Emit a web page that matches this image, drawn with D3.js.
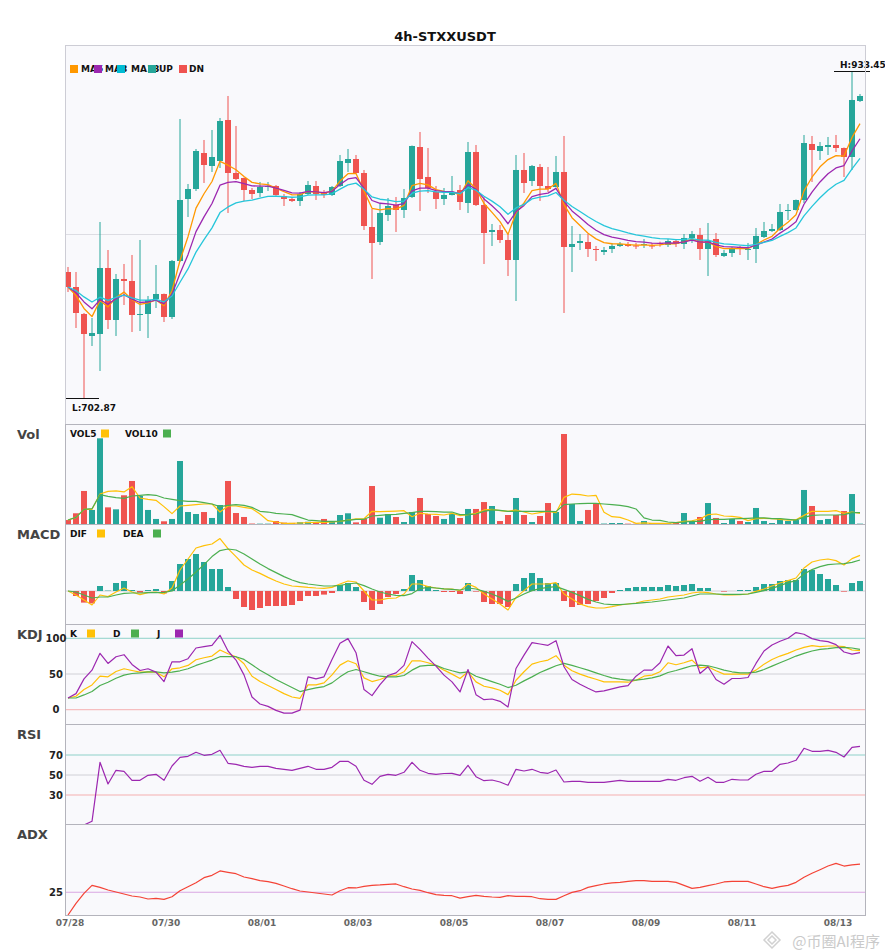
<!DOCTYPE html>
<html>
<head>
<meta charset="utf-8">
<script src="https://cdn.jsdelivr.net/npm/d3@7"></script>
<style>
  body { margin: 0; background: #ffffff; }
  svg { display: block; font-family: "DejaVu Sans", sans-serif; }
</style>
</head>
<body>
<div id="chart"></div>
<script>
// ---- data (4h candles, 07/28 .. 08/13) ----
const openP = [791.72, 781.14, 762.11, 746.59, 748.00, 794.54, 757.88, 786.79, 785.38, 761.40,
  762.11, 772.68, 776.21, 759.99, 799.48, 843.20, 850.25, 875.63, 866.47, 869.99,
  898.90, 861.53, 858.01, 849.54, 847.43, 851.66, 852.36, 845.31, 843.20, 841.79,
  846.72, 852.36, 848.13, 846.02, 852.36, 868.58, 871.40, 861.53, 823.45, 812.88,
  831.91, 838.97, 835.44, 844.61, 879.86, 858.71, 848.13, 843.20, 846.02, 849.54,
  840.38, 876.34, 838.97, 819.93, 821.34, 814.29, 800.18, 863.65, 855.89, 865.76,
  852.36, 851.66, 862.24, 809.35, 812.17, 812.88, 807.94, 805.82, 807.94, 810.06,
  811.47, 810.40, 810.76, 810.40, 812.17, 810.76, 813.58, 811.47, 815.70, 817.81,
  807.94, 814.99, 803.00, 805.12, 809.35, 807.23, 807.94, 816.40, 820.63, 821.34,
  834.74, 835.44, 842.49, 881.98, 877.04, 879.86, 881.27, 879.16, 872.81, 912.30];
const highP = [795.25, 791.72, 762.81, 759.29, 826.98, 807.23, 790.31, 797.36, 803.71, 814.29,
  774.80, 796.65, 776.50, 800.18, 899.61, 853.77, 878.45, 884.80, 891.85, 900.31,
  915.83, 894.67, 858.30, 850.95, 855.18, 855.18, 853.07, 846.72, 844.61, 848.13,
  855.89, 855.89, 849.54, 852.36, 874.22, 878.45, 874.22, 863.65, 836.15, 839.67,
  843.90, 844.61, 850.25, 880.90, 890.44, 879.16, 852.36, 850.95, 859.42, 853.07,
  883.39, 881.27, 844.61, 825.57, 824.86, 818.52, 874.22, 875.63, 867.17, 867.88,
  865.76, 873.52, 887.62, 824.16, 818.52, 818.52, 810.06, 809.35, 812.17, 812.88,
  812.88, 812.17, 814.99, 812.17, 813.09, 814.99, 814.99, 818.52, 820.63, 822.75,
  826.27, 819.22, 807.23, 809.35, 810.06, 812.17, 822.75, 826.98, 825.57, 839.67,
  839.67, 842.80, 888.33, 887.62, 883.39, 886.92, 888.33, 879.50, 933.45, 917.24];
const lowP = [777.62, 752.23, 702.87, 739.54, 721.91, 751.53, 746.59, 768.45, 749.41, 750.12,
  745.18, 766.34, 756.46, 758.58, 798.80, 830.50, 848.84, 854.48, 862.24, 865.06,
  833.33, 856.59, 841.79, 843.20, 844.61, 848.84, 845.50, 838.26, 841.08, 838.26,
  846.02, 842.49, 843.90, 845.31, 851.66, 862.24, 861.20, 821.34, 786.79, 810.76,
  827.68, 819.93, 829.80, 843.90, 834.74, 847.43, 836.15, 838.97, 845.70, 835.44,
  833.33, 838.26, 797.36, 810.06, 812.17, 788.90, 771.27, 847.43, 852.36, 841.79,
  848.13, 851.30, 762.81, 791.72, 807.23, 802.30, 799.48, 803.71, 805.12, 809.35,
  809.35, 807.94, 808.65, 807.94, 809.56, 809.35, 809.35, 807.94, 812.17, 800.18,
  788.90, 802.30, 802.30, 802.30, 803.71, 800.18, 798.07, 815.70, 819.93, 820.63,
  828.39, 835.10, 840.38, 855.18, 870.70, 874.22, 876.34, 858.71, 863.65, 911.60];
const closeP = [781.14, 762.81, 748.00, 748.71, 794.54, 757.88, 786.79, 785.38, 761.40, 762.11,
  771.98, 776.21, 759.99, 799.48, 842.49, 850.25, 877.04, 867.17, 872.81, 898.20,
  861.53, 857.30, 849.54, 846.72, 851.66, 852.36, 846.02, 843.20, 841.79, 846.72,
  853.07, 846.72, 846.02, 851.66, 869.99, 871.40, 861.53, 824.16, 812.17, 833.33,
  838.26, 835.44, 843.90, 880.57, 857.30, 850.95, 843.20, 846.02, 848.13, 841.08,
  876.34, 838.97, 819.22, 821.34, 814.29, 800.18, 863.65, 854.48, 866.47, 852.36,
  850.25, 862.24, 809.35, 811.47, 813.58, 807.94, 807.23, 807.23, 810.06, 811.47,
  810.06, 809.70, 811.47, 809.70, 811.47, 813.58, 811.47, 815.70, 818.52, 807.94,
  813.58, 803.71, 805.12, 808.65, 807.94, 807.94, 817.11, 820.63, 822.04, 834.03,
  835.44, 842.49, 882.68, 877.75, 880.57, 881.27, 879.16, 872.81, 913.01, 915.83];

const ma5 = [781.14, 775.03, 766.03, 760.25, 771.68, 767.08, 773.65, 777.55, 772.17, 768.81,
  769.87, 771.98, 767.98, 778.49, 799.82, 816.63, 836.77, 846.90, 855.54, 869.76,
  867.02, 863.78, 859.03, 854.93, 853.84, 853.34, 850.90, 848.34, 846.15, 846.34,
  848.58, 847.96, 847.31, 848.76, 855.84, 861.03, 861.20, 848.85, 836.62, 835.52,
  836.43, 836.10, 838.70, 852.66, 854.20, 853.12, 849.81, 848.55, 848.41, 845.97,
  856.09, 850.38, 840.00, 833.78, 827.28, 818.25, 833.38, 840.41, 849.10, 850.18,
  850.20, 854.22, 839.26, 830.00, 824.52, 819.00, 815.08, 812.46, 811.65, 811.59,
  811.08, 810.62, 810.90, 810.50, 810.82, 811.74, 811.65, 812.99, 814.83, 812.54,
  812.88, 809.82, 808.26, 808.38, 808.24, 808.14, 811.13, 814.29, 816.88, 822.59,
  826.87, 832.08, 848.94, 858.55, 865.89, 871.01, 873.73, 873.43, 886.62, 896.36];
const ma8 = [781.14, 777.07, 770.61, 765.74, 772.14, 768.97, 772.93, 775.69, 772.52, 770.21,
  770.60, 771.85, 769.21, 775.94, 790.73, 803.96, 820.19, 830.63, 840.00, 852.94,
  854.85, 855.39, 854.09, 852.45, 852.28, 852.30, 850.90, 849.19, 847.55, 847.36,
  848.63, 848.21, 847.72, 848.60, 853.35, 857.36, 858.29, 850.70, 842.14, 840.18,
  839.76, 838.80, 839.93, 848.96, 850.82, 850.85, 849.15, 848.45, 848.38, 846.76,
  853.33, 850.13, 843.27, 838.39, 833.04, 825.74, 834.16, 838.68, 844.85, 846.52,
  847.35, 850.66, 841.48, 834.81, 830.09, 825.17, 821.18, 818.08, 816.30, 815.22,
  814.07, 813.10, 812.74, 812.06, 811.92, 812.29, 812.11, 812.90, 814.15, 812.77,
  812.95, 810.90, 809.62, 809.40, 809.07, 808.82, 810.66, 812.88, 814.91, 819.16,
  822.78, 827.15, 839.49, 847.99, 855.23, 861.02, 865.06, 866.78, 877.05, 885.67];
const ma13 = [781.14, 778.53, 774.16, 770.52, 773.96, 771.66, 773.82, 775.47, 773.46, 771.84,
  771.86, 772.48, 770.69, 774.80, 784.47, 793.87, 805.75, 814.52, 822.85, 833.61,
  837.61, 840.42, 841.72, 842.43, 843.75, 844.98, 845.13, 844.85, 844.42, 844.75,
  845.94, 846.05, 846.04, 846.85, 850.16, 853.19, 854.38, 850.06, 844.65, 843.03,
  842.35, 841.36, 841.72, 847.27, 848.70, 849.03, 848.20, 847.89, 847.92, 846.94,
  851.14, 849.40, 845.09, 841.70, 837.79, 832.41, 836.88, 839.40, 843.26, 844.56,
  845.37, 847.78, 842.29, 837.89, 834.42, 830.64, 827.30, 824.43, 822.38, 820.82,
  819.29, 817.92, 816.99, 815.95, 815.31, 815.06, 814.55, 814.71, 815.25, 814.21,
  814.12, 812.63, 811.56, 811.14, 810.68, 810.29, 811.26, 812.60, 813.95, 816.82,
  819.48, 822.76, 831.32, 837.96, 844.04, 849.36, 853.62, 856.36, 864.46, 871.80];

const volume = [4.4, 11.9, 36.7, 15.6, 95.2, 18.5, 16.3, 31.9, 47.8, 31.1,
  15.6, 5.6, 3.0, 5.6, 70.0, 13.3, 11.1, 13.3, 6.7, 21.1,
  47.8, 12.2, 7.8, 0.5, 0.4, 0.4, 3.3, 1.5, 1.2, 2.0,
  2.5, 2.0, 5.6, 2.2, 10.0, 11.9, 1.8, 5.6, 42.2, 7.0,
  11.1, 7.8, 2.2, 13.3, 28.9, 11.1, 8.9, 5.6, 11.1, 6.7,
  16.7, 16.7, 24.4, 20.0, 3.3, 10.0, 28.9, 10.0, 2.2, 8.9,
  23.3, 13.3, 100.0, 22.2, 3.3, 15.6, 22.2, 0.5, 1.1, 1.1,
  0.4, 0.3, 3.3, 1.1, 1.1, 0.8, 1.1, 12.2, 2.2, 7.8,
  23.3, 6.7, 1.1, 5.6, 3.3, 2.2, 17.8, 3.3, 1.1, 5.6,
  3.3, 4.4, 37.8, 20.0, 4.4, 5.6, 10.0, 14.4, 33.3, 0.4];
const vol5 = [4.4, 7.4, 16.3, 16.3, 33.3, 36.3, 36.7, 35.6, 41.5, 28.9,
  27.4, 26.3, 19.3, 11.5, 20.0, 20.7, 21.5, 22.2, 22.2, 13.3,
  20.0, 20.0, 18.5, 17.0, 11.1, 3.7, 2.2, 0.7, 0.7, 1.1,
  1.5, 1.9, 1.9, 2.2, 3.0, 4.4, 5.6, 5.9, 14.1, 13.7,
  14.1, 14.4, 14.8, 8.1, 11.9, 11.1, 10.7, 10.0, 11.9, 9.3,
  10.4, 11.9, 15.6, 16.3, 14.8, 14.1, 15.6, 13.3, 11.1, 12.6,
  14.1, 12.6, 29.6, 33.3, 32.6, 31.1, 31.9, 13.0, 8.1, 7.4,
  4.5, 0.7, 1.2, 0.7, 0.7, 0.7, 1.5, 3.0, 3.6, 5.6,
  10.4, 11.1, 8.9, 8.5, 7.4, 3.7, 5.9, 6.3, 5.9, 5.2,
  4.4, 4.8, 9.6, 14.1, 14.1, 14.1, 14.8, 11.9, 13.3, 11.9];
const vol10 = [4.4, 7.4, 16.3, 17.0, 32.6, 30.7, 29.3, 28.5, 31.1, 31.9,
  32.6, 31.9, 28.9, 27.4, 25.9, 25.2, 25.2, 23.7, 22.2, 19.3,
  20.7, 21.5, 20.7, 18.5, 14.1, 13.3, 11.9, 11.1, 10.4, 7.4,
  4.4, 3.7, 3.0, 3.0, 3.3, 4.1, 5.2, 5.2, 8.9, 9.6,
  10.4, 10.7, 11.9, 12.6, 14.1, 14.1, 13.7, 13.3, 13.3, 10.4,
  10.4, 11.1, 14.1, 15.6, 15.2, 14.1, 14.1, 14.1, 14.1, 14.1,
  14.1, 13.7, 21.5, 22.2, 22.6, 23.0, 23.0, 22.2, 21.5, 20.7,
  19.3, 16.7, 6.8, 4.4, 4.1, 2.2, 1.5, 2.2, 3.0, 3.0,
  4.8, 5.2, 5.2, 5.6, 5.9, 6.3, 6.7, 6.7, 5.9, 5.9,
  5.2, 4.4, 7.4, 9.6, 10.0, 10.0, 10.0, 10.4, 12.6, 12.6];

const dif = [0, -2, -4.5, -7, -2, -2.8, -0.5, 1.5, -0.5, -1.8,
  -0.8, -0.5, -1.5, 1.5, 10.5, 16, 21.5, 22.7, 23.5, 26.2,
  21.2, 17.2, 13, 10.5, 8.8, 6.8, 5, 3.5, 2.5, 2.2,
  1.8, 1.5, 1.3, 1.8, 3.5, 5, 4.5, 0, -4.5, -4.5,
  -3.7, -3.5, -1.5, 3.5, 3.5, 2.2, 1.5, 1.1, 1, 0.2,
  3.5, 1.8, -1.5, -4, -6.5, -9.5, -3.2, 0.2, 3.5, 3.5,
  3.5, 4.2, -1.5, -4, -6.5, -7.8, -8.5, -8.5, -7.8, -7,
  -6.5, -6, -5, -4.5, -4, -3, -2.5, -2, -1, -0.5,
  -0.8, -1.5, -2, -2, -1.8, -1.5, -0.2, 1, 2.5, 4,
  5.2, 6.5, 11.5, 14.5, 15.5, 16, 15.2, 13, 16.2, 17.8];
const dea = [0, -0.5, -2, -3.5, -3, -3, -2, -1.2, -1, -1,
  -0.8, -0.8, -0.7, 0, 3, 6, 9.5, 13.2, 17.2, 20.2,
  21, 20.5, 18.5, 16, 13.5, 11.2, 9.2, 7.2, 5.5, 4.2,
  3.5, 3, 2.5, 2.5, 2.8, 3.5, 4, 2.7, 1, -0.5,
  -1.5, -2.2, -2.3, -1.3, 1.2, 1.8, 1.5, 1.1, 0.8, 0.5,
  1.5, 1, -0.2, -1.5, -3.2, -5.2, -3.5, -1.5, 0.2, 1.2,
  1.8, 2.2, 0.8, -0.7, -2.3, -4.2, -5.5, -6.5, -6.8, -6.8,
  -6.5, -6.2, -5.8, -5.5, -5, -4.5, -4, -3.5, -2.5, -1.5,
  -1.5, -1.5, -1.7, -1.7, -1.7, -1.5, -0.7, 0.2, 1.3, 2.7,
  4.2, 5.2, 8.5, 10.7, 12.2, 13.2, 13.5, 13.7, 14.3, 15.5];
const macdHist = [0, -2.5, -5.8, -6.2, 2.5, 0.2, 4, 5, 0.5, -0.8,
  0.5, 1, -1.2, 5, 13.5, 16, 18.5, 14.5, 11, 11,
  2, -4, -8, -9.5, -8.5, -7.5, -7.5, -7.5, -7, -5,
  -2.5, -2.5, -1.8, -1, 3, 4, 2, -5.5, -9.5, -6.5,
  -3, -1.5, 1, 8, 5.5, 2.5, 0.5, -0.5, -0.5, -1.5,
  4, -0.3, -5.5, -6.5, -6.5, -8, 3.5, 6.5, 9, 6.5,
  4, 4, -5, -8, -7, -6.5, -5, -3.5, -1, 0.5,
  1.5, 2, 2, 2, 2, 3, 2.5, 3, 3.5, 1.5,
  1.5, 0, -0.3, 0, 0.5, 0.5, 2, 3.5, 3.5, 5,
  5.5, 5.5, 11, 10.5, 8.5, 6, 3, -0.3, 4, 5];

const kLine = [16.4, 18.8, 28.2, 34.7, 46.9, 46, 53.5, 57.3, 54.9, 52.6,
  53.1, 52.6, 46, 57.3, 58.7, 62, 70, 72.8, 75.1, 83.6,
  78.4, 74.2, 64.3, 46.9, 39.4, 33.8, 28.2, 22.5, 17.8, 16,
  34.7, 34.7, 37.6, 48.8, 62.4, 68.5, 64.3, 44.6, 39.4, 42.3,
  46.9, 47.9, 53.1, 68.5, 68.5, 65.7, 62, 55.4, 49.8, 43.7,
  53.1, 39, 32.9, 30.5, 27.2, 21.1, 41.3, 53.1, 63.8, 67.1,
  69.5, 75.6, 62.4, 54.5, 49.8, 46, 42.7, 39, 39, 39,
  38.5, 41.3, 46.9, 48.4, 53.1, 65.7, 62.9, 65.7, 69.5, 58.7,
  60.1, 54.5, 49.8, 49.8, 49.8, 49.8, 55.4, 63.8, 70.4, 75.1,
  78.9, 83.6, 87.3, 89.7, 88.3, 89.2, 89.2, 88.3, 83.6, 82.6];
const dLine = [16.4, 16.4, 20.7, 25.4, 33.8, 38.5, 44.1, 48.4, 50.7, 51.6,
  53.1, 53.1, 51.6, 52.6, 54.5, 57.3, 62, 65.7, 69.5, 74.2,
  74.2, 74.2, 70.4, 62.9, 55.4, 48.8, 42.3, 36.6, 31, 25.4,
  28.2, 30.5, 32.4, 37.6, 46, 53.1, 56.3, 53.1, 49.8, 46.9,
  46, 46, 47.9, 55.4, 61, 62, 62, 57.7, 54.5, 51.6,
  53.1, 46.9, 43.2, 39.4, 35.7, 31, 34.3, 40.4, 46, 52.1,
  56.8, 61.5, 64.8, 62, 58.7, 55.4, 51.6, 47.9, 44.6, 42.7,
  41.3, 41.3, 42.7, 44.6, 47.4, 52.1, 54.9, 58.2, 61.5, 62.4,
  61.5, 58.7, 55.4, 53.1, 51.6, 51.6, 52.6, 56.3, 61, 65.7,
  70.4, 75.1, 78.9, 82.2, 84.5, 85.4, 86.9, 87.3, 86.4, 84.5];
const jLine = [16.4, 22.5, 43.2, 55.4, 78.9, 64.8, 74.2, 77, 63.4, 54.9,
  57.3, 52.6, 39.4, 67.1, 67.1, 71.4, 86.4, 88.3, 90.1, 104.2,
  82.2, 69.5, 48.8, 17.8, 8, 4.7, -0.9, -4.7, -4.7, -0.5,
  46, 43.2, 46, 70.4, 93, 99.5, 79.8, 28.2, 19.7, 35.2,
  47.9, 51.6, 62, 95.3, 84.5, 72.3, 61, 48.4, 39, 24.9,
  56.3, 21.1, 14.1, 15, 11.7, 3.8, 57.7, 76.5, 93.9, 92,
  90.1, 96.7, 60.1, 42.3, 35.7, 30, 24.9, 26.3, 29.1, 31.9,
  33.8, 46.9, 55.4, 55.4, 65.7, 89.2, 75.6, 76.5, 85.4, 50.7,
  60.1, 42.3, 35.7, 43.7, 43.7, 45.1, 64.8, 82.2, 90.6, 95.8,
  100, 108, 105.6, 99.5, 96.7, 95.3, 91.1, 80.8, 77.9, 79.8];

const rsi = [0, 0, 0, 3.7, 62.7, 41, 54.7, 53.7, 44.7, 44.7,
  49.7, 50.7, 44.7, 59, 67.7, 68.7, 72.7, 69.7, 70.7, 74.7,
  61.7, 60.7, 58.7, 57.7, 58.7, 58.7, 56.7, 55.7, 54.7, 56.7,
  58.7, 55.7, 55.7, 57.7, 63.7, 63.7, 58.7, 44.7, 40.7, 48.7,
  50.7, 49.7, 52.7, 62.7, 54.7, 51.7, 50.7, 51.5, 51.7, 49.7,
  59.7, 48.3, 44.3, 45, 43, 39.7, 55.7, 54, 55.7, 52.7,
  51.7, 55, 43, 43.7, 43.7, 42.7, 42.7, 42.7, 43.7, 44.7,
  43.7, 43.7, 43.7, 43.7, 43.7, 45.7, 44.7, 47.3, 48.7, 43.7,
  47.7, 42.7, 42.7, 45.7, 45, 45, 50.7, 53.7, 53.7, 60.7,
  62, 64.7, 76.7, 73.7, 73.7, 74.7, 72.7, 68, 77.7, 78.7];
const adx = [0, 12.8, 23.8, 32.6, 30.4, 27.5, 25.3, 23.1, 20.9, 19.8,
  17.6, 18.3, 17.2, 20.1, 26.7, 31.1, 35.5, 41, 43.6, 48.4,
  46.9, 45.4, 41.8, 39.9, 37.7, 36.6, 34.8, 31.9, 28.9, 26.4,
  25.3, 24.2, 23.1, 22, 26.7, 30, 29.7, 31.5, 32.6, 33,
  33.7, 34.1, 31.1, 28.6, 27.1, 24.5, 22.3, 21.5, 21.2, 18.6,
  20.1, 21.6, 20.5, 19.8, 19.4, 21.2, 20.5, 20.5, 20.1, 17.9,
  17.2, 17.2, 21.2, 24.9, 26.7, 30.4, 32.2, 34.1, 35.2, 35.9,
  37, 37.7, 37.7, 37, 37, 37, 35.9, 32.6, 29.3, 30.4,
  32.2, 34.1, 36.3, 37, 37, 37, 34.1, 31.1, 29.3, 31.1,
  32.6, 35.9, 41.4, 45.8, 49.8, 53.8, 56.8, 53.8, 55, 56];

const tickIndex = [0, 12, 24, 36, 48, 60, 72, 84, 96];
const tickLabels = ["07/28", "07/30", "08/01", "08/03", "08/05", "08/07", "08/09", "08/11", "08/13"];

// ---- layout ----
const UP = "#26A69A", DN = "#EF5350";
const plotL = 65, plotR = 866;
const panels = {
  main: [45, 424], vol: [424, 524], macd: [524, 624],
  kdj: [624, 724], rsi: [724, 824], adx: [824, 915]
};

const svg = d3.select("#chart").append("svg")
  .attr("width", 885)
  .attr("height", 950);

svg.append("rect")
  .attr("x", plotL).attr("y", 45)
  .attr("width", plotR - plotL).attr("height", 915 - 45)
  .attr("fill", "#F9F9FC");

const n = closeP.length;
const x = d3.scaleBand()
  .domain(d3.range(n))
  .range([64, 864])
  .paddingInner(0.25)
  .paddingOuter(0.125);
const cx = i => x(i) + x.bandwidth() / 2;

// clip paths per panel
Object.entries(panels).forEach(([k, [t, b]]) => {
  svg.append("clipPath").attr("id", "clip-" + k)
    .append("rect").attr("x", plotL).attr("y", t)
    .attr("width", plotR - plotL).attr("height", b - t);
});

function hline(g, y, color) {
  g.append("line")
    .attr("x1", plotL).attr("x2", plotR)
    .attr("y1", y).attr("y2", y)
    .attr("stroke", color).attr("stroke-width", 1);
}

function drawLine(g, values, yScale, color, width) {
  g.append("path")
    .datum(values)
    .attr("fill", "none")
    .attr("stroke", color)
    .attr("stroke-width", width || 1.3)
    .attr("stroke-linejoin", "round")
    .attr("d", d3.line().x((d, i) => cx(i)).y(d => yScale(d)));
}

// ---- main candle panel ----
const lo = d3.min(lowP), hi = d3.max(highP);
const y = d3.scaleLinear().domain([lo, hi]).range([398, 71]);
const gMain = svg.append("g").attr("clip-path", "url(#clip-main)");
hline(gMain, y((lo + hi) / 2), "#DDDDE3");

const candles = gMain.selectAll("g.c")
  .data(d3.range(n))
  .join("g").attr("class", "c");
candles.append("line")
  .attr("x1", i => cx(i)).attr("x2", i => cx(i))
  .attr("y1", i => y(highP[i])).attr("y2", i => y(lowP[i]))
  .attr("stroke", i => closeP[i] >= openP[i] ? UP : DN)
  .attr("stroke-width", 1);
candles.append("rect")
  .attr("x", i => x(i))
  .attr("width", x.bandwidth())
  .attr("y", i => y(Math.max(openP[i], closeP[i])))
  .attr("height", i => Math.max(1, Math.abs(y(openP[i]) - y(closeP[i]))))
  .attr("fill", i => closeP[i] >= openP[i] ? UP : DN);

drawLine(gMain, ma5, y, "#FF9800");
drawLine(gMain, ma8, y, "#9C27B0");
drawLine(gMain, ma13, y, "#26C6DA");

// high / low markers
const iHi = d3.maxIndex(highP), iLo = d3.minIndex(lowP);
svg.append("line").attr("x1", cx(iHi) - 18).attr("x2", cx(iHi) + 18)
  .attr("y1", Math.round(y(hi)) + 0.5).attr("y2", Math.round(y(hi)) + 0.5)
  .attr("stroke", "#111").attr("stroke-width", 1.2);
svg.append("text").attr("x", cx(iHi) - 12).attr("y", y(hi) - 3.5)
  .attr("font-size", 9).attr("font-weight", "bold").attr("fill", "#111")
  .text("H:" + hi.toFixed(2));
svg.append("line").attr("x1", Math.max(plotL, cx(iLo) - 18)).attr("x2", cx(iLo) + 15)
  .attr("y1", Math.round(y(lo)) + 0.5).attr("y2", Math.round(y(lo)) + 0.5)
  .attr("stroke", "#111").attr("stroke-width", 1.2);
svg.append("text").attr("x", cx(iLo) - 12).attr("y", y(lo) + 12.5)
  .attr("font-size", 9).attr("font-weight", "bold").attr("fill", "#111")
  .text("L:" + lo.toFixed(2));

// ---- volume ----
const yVol = d3.scaleLinear().domain([0, d3.max(volume) / 0.9]).range([524, 424]);
const gVol = svg.append("g").attr("clip-path", "url(#clip-vol)");
gVol.selectAll("rect").data(volume).join("rect")
  .attr("x", (d, i) => x(i)).attr("width", x.bandwidth())
  .attr("y", d => yVol(d)).attr("height", d => yVol(0) - yVol(d))
  .attr("fill", (d, i) => closeP[i] >= openP[i] ? UP : DN);
drawLine(gVol, vol5, yVol, "#FFC107", 1.2);
drawLine(gVol, vol10, yVol, "#4CAF50", 1.2);

// ---- MACD ----
const yMacd = d3.scaleLinear().domain([-16.5, 33.5]).range([624, 524]);
const gMacd = svg.append("g").attr("clip-path", "url(#clip-macd)");
hline(gMacd, yMacd(0), "#D0D0D6");
gMacd.selectAll("rect").data(macdHist).join("rect")
  .attr("x", (d, i) => x(i)).attr("width", x.bandwidth())
  .attr("y", d => yMacd(Math.max(0, d)))
  .attr("height", d => Math.abs(yMacd(d) - yMacd(0)))
  .attr("fill", d => d >= 0 ? UP : DN);
drawLine(gMacd, dif, yMacd, "#FFC107", 1.2);
drawLine(gMacd, dea, yMacd, "#4CAF50", 1.2);

// ---- KDJ ----
const yKdj = d3.scaleLinear().domain([-20, 120]).range([724, 624]);
const gKdj = svg.append("g").attr("clip-path", "url(#clip-kdj)");
hline(gKdj, yKdj(100), "#8ED1C9");
hline(gKdj, yKdj(50), "#D0D0D6");
hline(gKdj, yKdj(0), "#F5AFAF");
drawLine(gKdj, kLine, yKdj, "#FFC107", 1.2);
drawLine(gKdj, dLine, yKdj, "#4CAF50", 1.2);
drawLine(gKdj, jLine, yKdj, "#9C27B0", 1.2);

// ---- RSI ----
const yRsi = d3.scaleLinear().domain([0, 100]).range([825, 725]);
const gRsi = svg.append("g").attr("clip-path", "url(#clip-rsi)");
hline(gRsi, yRsi(70), "#8ED1C9");
hline(gRsi, yRsi(50), "#D0D0D6");
hline(gRsi, yRsi(30), "#F5AFAF");
drawLine(gRsi, rsi, yRsi, "#9C27B0", 1.2);

// ---- ADX ----
const yAdx = d3.scaleLinear().domain([0, 100]).range([915, 824]);
const gAdx = svg.append("g").attr("clip-path", "url(#clip-adx)");
hline(gAdx, yAdx(25), "#D9A6E2");
drawLine(gAdx, adx, yAdx, "#F44336", 1.2);

// ---- panel frames ----
Object.entries(panels).forEach(([k, [t, b]]) => {
  svg.append("rect")
    .attr("x", plotL + 0.5).attr("y", t + 0.5)
    .attr("width", plotR - plotL - 1).attr("height", b - t)
    .attr("fill", "none")
    .attr("stroke", k === "main" ? "#CDCDD5" : "#B4B4BC")
    .attr("stroke-width", 1);
});

// ---- y tick labels ----
const yTicks = [
  [yKdj, [100, 50, 0]],
  [yRsi, [70, 50, 30]],
  [yAdx, [25]]
];
yTicks.forEach(([sc, vals]) => {
  svg.append("g").selectAll("text").data(vals).join("text")
    .attr("x", 56).attr("y", d => sc(d) + 3.5)
    .attr("text-anchor", "middle")
    .attr("font-size", 10).attr("font-weight", "bold").attr("fill", "#222")
    .text(d => d);
});

// ---- x axis labels ----
svg.append("g").selectAll("text").data(tickIndex).join("text")
  .attr("x", i => cx(i) + 2).attr("y", 926)
  .attr("text-anchor", "middle")
  .attr("font-size", 9).attr("font-weight", "bold").attr("fill", "#666")
  .text((d, k) => tickLabels[k]);

// ---- titles and labels ----
svg.append("text").attr("x", 445).attr("y", 40.5)
  .attr("text-anchor", "middle")
  .attr("font-size", 13).attr("font-weight", "bold").attr("fill", "#111")
  .text("4h-STXXUSDT");

const panelNames = [["Vol", 424], ["MACD", 524], ["KDJ", 624], ["RSI", 724], ["ADX", 824]];
svg.append("g").selectAll("text").data(panelNames).join("text")
  .attr("x", 17).attr("y", d => d[1] + 15)
  .attr("font-size", 13).attr("font-weight", "bold").attr("fill", "#444")
  .text(d => d[0]);

// ---- legends ----
function legend(items, yc) {
  const g = svg.append("g").attr("font-size", 9).attr("font-weight", "bold").attr("fill", "#111");
  items.forEach(it => {
    g.append("text").attr("x", it.tx).attr("y", yc + 3.3).text(it.label);
  });
  items.forEach(it => {
    g.append("rect").attr("x", it.sx).attr("y", yc - 4).attr("width", 8).attr("height", 8)
      .attr("fill", it.color);
  });
}
legend([
  { label: "MA5", color: "#FF9800", sx: 70, tx: 81 },
  { label: "MA8", color: "#9C27B0", sx: 94, tx: 105 },
  { label: "MA13", color: "#00BCD4", sx: 117, tx: 131 },
  { label: "UP", color: UP, sx: 148, tx: 159 },
  { label: "DN", color: DN, sx: 179, tx: 189 }
], 69);
legend([
  { label: "VOL5", color: "#FFC107", sx: 101, tx: 70 },
  { label: "VOL10", color: "#4CAF50", sx: 163, tx: 125 }
], 433.5);
legend([
  { label: "DIF", color: "#FFC107", sx: 97, tx: 70 },
  { label: "DEA", color: "#4CAF50", sx: 153, tx: 123 }
], 533.5);
legend([
  { label: "K", color: "#FFC107", sx: 87, tx: 70 },
  { label: "D", color: "#4CAF50", sx: 131, tx: 113 },
  { label: "J", color: "#9C27B0", sx: 175, tx: 157 }
], 633.5);

// ---- watermark (kept below the date labels) ----
const wm = svg.append("g").attr("opacity", 0.8);
wm.append("path")
  .attr("d", "M772,932 L780,940 L772,948 L764,940 Z M772,936 L776,940 L772,944 L768,940 Z")
  .attr("fill", "none").attr("stroke", "#C6C6C6").attr("stroke-width", 1.5);
wm.append("text").attr("x", 880).attr("y", 946.5)
  .attr("text-anchor", "end")
  .attr("font-family", "Noto Sans CJK SC").attr("font-size", 15).attr("fill", "#BDBDBD")
  .text("@币圈AI程序");
</script>
</body>
</html>
